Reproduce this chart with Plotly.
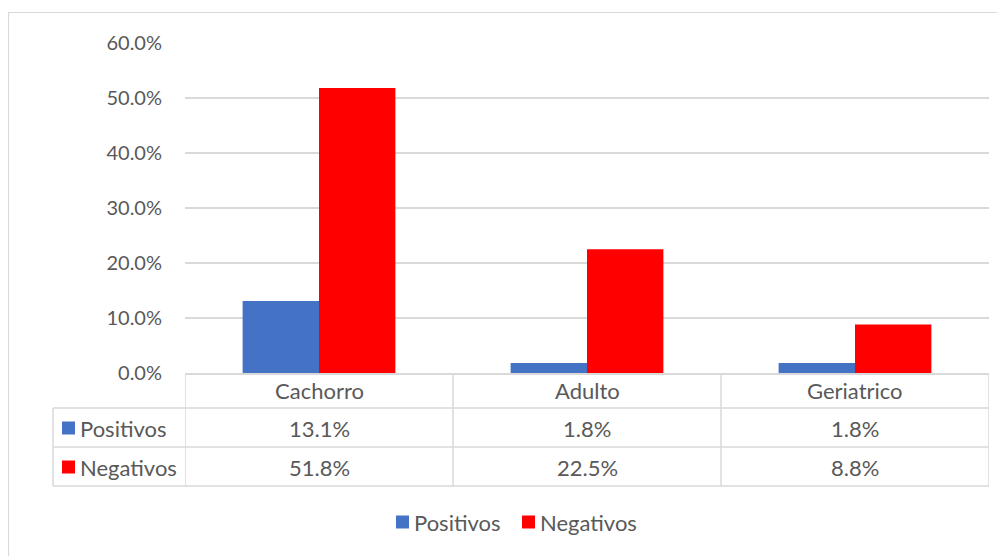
import plotly.graph_objects as go

categories = ["Cachorro", "Adulto", "Geriatrico"]
series_names = ["Positivos", "Negativos"]
positivos = [13.1, 1.8, 1.8]
negativos = [51.8, 22.5, 8.8]
y_ticks = [0, 10, 20, 30, 40, 50, 60]
y_tick_labels = [f"{v:.1f}%" for v in y_ticks]

colors = ["#4472C4", "#FF0000"]
values = [positivos, negativos]
TEXT = "#595959"
GRID = "#D9D9D9"
FONT = "Lato"
TSIZE = 22

fig = go.Figure()
for name, vals, col in zip(series_names, values, colors):
    fig.add_trace(go.Bar(x=categories, y=vals, name=name, marker_color=col,
                         marker_line_width=0, showlegend=False))

# page offset of 8px (body margin)
OFF = 8
W, H = 1005 - OFF, 556 - OFF
L, R, T = 185 - OFF, 16, 43 - OFF
B = H - (373 - OFF)
pw, ph = W - L - R, H - T - B

def py(pix):
    return (H - B - (pix - OFF)) / ph

def px(pix):
    return (pix - OFF - L) / pw

shapes = []
line = dict(color=GRID, width=1.5)
# outer border
shapes.append(dict(type="rect", xref="paper", yref="paper", x0=px(8.5), x1=px(1020),
                   y0=py(600), y1=py(12.5), line=dict(color=GRID, width=1.2), layer="below"))
# table horizontal lines
for yy in [408, 447, 486]:
    shapes.append(dict(type="line", xref="paper", yref="paper", x0=px(53), x1=1,
                       y0=py(yy), y1=py(yy), line=line))
# vertical lines of data columns
for i in range(len(categories) + 1):
    shapes.append(dict(type="line", xref="x", yref="paper", x0=i - 0.5, x1=i - 0.5,
                       y0=0, y1=py(486), line=line))
# left column edge
shapes.append(dict(type="line", xref="paper", yref="paper", x0=px(53), x1=px(53),
                   y0=py(408), y1=py(486), line=line))

annotations = []
row_y = [428, 467]
for r, (name, vals, col) in enumerate(zip(series_names, values, colors)):
    yc = py(row_y[r])
    shapes.append(dict(type="rect", xref="paper", yref="paper", x0=px(62), x1=px(75),
                       y0=yc - 6.5 / ph, y1=yc + 6.5 / ph, fillcolor=col, line=dict(width=0)))
    annotations.append(dict(text=name, xref="paper", yref="paper", x=px(78), y=yc,
                            xanchor="left", yanchor="middle", showarrow=False,
                            font=dict(family=FONT, size=TSIZE, color=TEXT)))
    for i, v in enumerate(vals):
        annotations.append(dict(text=f"{v:.1f}%", xref="x", yref="paper", x=categories[i],
                                y=yc, xanchor="center", yanchor="middle", showarrow=False,
                                font=dict(family=FONT, size=TSIZE, color=TEXT)))
for i, c in enumerate(categories):
    annotations.append(dict(text=c, xref="x", yref="paper", x=c, y=py(390),
                            xanchor="center", yanchor="middle", showarrow=False,
                            font=dict(family=FONT, size=TSIZE, color=TEXT)))

# bottom legend (custom, Excel style)
leg_sq_x = [396, 522]
leg_y = py(522)
for name, col, sx in zip(series_names, colors, leg_sq_x):
    shapes.append(dict(type="rect", xref="paper", yref="paper", x0=px(sx), x1=px(sx + 13),
                       y0=leg_y - 6.5 / ph, y1=leg_y + 6.5 / ph, fillcolor=col,
                       line=dict(width=0)))
    annotations.append(dict(text=name, xref="paper", yref="paper", x=px(sx + 16), y=leg_y,
                            xanchor="left", yanchor="middle", showarrow=False,
                            font=dict(family=FONT, size=TSIZE, color=TEXT)))

fig.update_layout(
    width=W, height=H,
    margin=dict(l=L, r=R, t=T, b=B, autoexpand=False),
    paper_bgcolor="white", plot_bgcolor="white",
    barmode="group", bargap=0.43, bargroupgap=0,
    font=dict(family=FONT, color=TEXT),
    shapes=shapes, annotations=annotations,
    showlegend=False,
    xaxis=dict(showticklabels=False, showline=True, linecolor=GRID, linewidth=1.5,
               showgrid=False, ticks="", range=[-0.5, 2.5]),
    yaxis=dict(range=[0, 60], tickvals=y_ticks, ticktext=y_tick_labels,
               showgrid=True, gridcolor=GRID, gridwidth=1.5, zeroline=False,
               showline=False, ticks="", ticklabelstandoff=22,
               tickfont=dict(family=FONT, size=20, color=TEXT)),
)

fig.write_html("out.html")
